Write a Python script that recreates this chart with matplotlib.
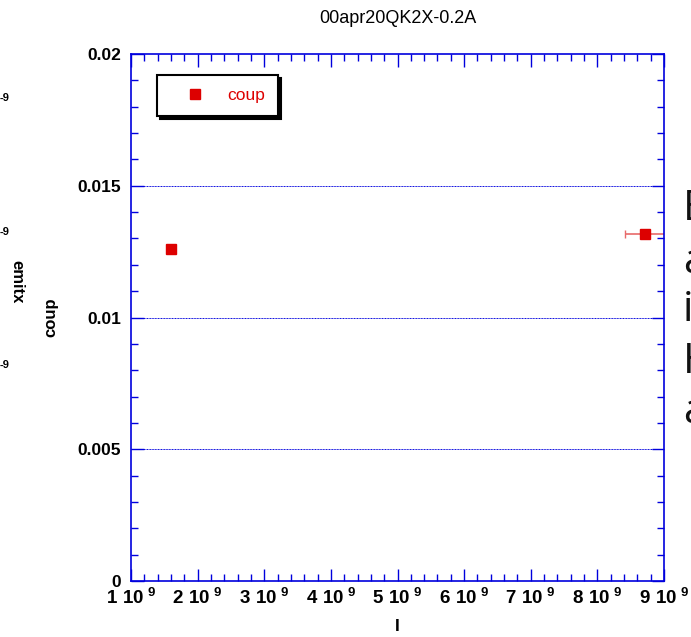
import numpy as np
import matplotlib
matplotlib.use("Agg")
import matplotlib.pyplot as plt
from matplotlib.ticker import MultipleLocator, FixedLocator, FuncFormatter

plt.rcParams['font.family'] = ['Liberation Sans', 'DejaVu Sans']
plt.rcParams['mathtext.fontset'] = 'custom'
plt.rcParams['mathtext.rm'] = 'Liberation Sans:bold'
plt.rcParams['mathtext.default'] = 'rm'

# data
current = [1.6e9, 8.72e9]
coup = [0.0126, 0.01317]
current_err = [0.0, 0.31e9]

x_ticks = [1e9, 2e9, 3e9, 4e9, 5e9, 6e9, 7e9, 8e9, 9e9]
y_ticks = [0, 0.005, 0.01, 0.015, 0.02]
y_tick_labels = ["0", "0.005", "0.01", "0.015", "0.02"]
grid_levels = [0.005, 0.01, 0.015]

blue = '#0000dd'
red = '#dd0000'

W, H = 691, 637
fig = plt.figure(figsize=(W / 100, H / 100), dpi=100)
ax = fig.add_axes([131 / W, 1 - 581 / H, 533 / W, 527 / H])

ax.errorbar(current, coup, xerr=current_err, fmt='none', ecolor='#e86a6a',
            elinewidth=1.2, capsize=3, zorder=2)
ax.plot(current, coup, 's', color=red, markersize=7.5, label='coup', zorder=3)

ax.set_xlim(1e9, 9e9)
ax.set_ylim(0, 0.02)

for g in grid_levels:
    ax.axhline(g, color=blue, lw=0.7, ls=(0, (1, 0.6)), zorder=1)

ax.xaxis.set_major_locator(FixedLocator(x_ticks))
ax.xaxis.set_minor_locator(MultipleLocator(0.2e9))
ax.yaxis.set_major_locator(FixedLocator(y_ticks))
ax.yaxis.set_minor_locator(MultipleLocator(0.001))
ax.xaxis.set_major_formatter(FuncFormatter(lambda v, p: r"$%d\ 10^{\ 9}$" % round(v / 1e9)))
ax.yaxis.set_major_formatter(FuncFormatter(lambda v, p: y_tick_labels[p] if p is not None and p < len(y_tick_labels) else ""))

ax.tick_params(which='both', direction='in', color=blue, top=True, right=True)
ax.tick_params(which='major', length=9, width=1)
ax.tick_params(which='minor', length=5, width=1)
ax.tick_params(axis='x', which='major', pad=5, labelsize=13.5)
ax.tick_params(axis='y', which='major', pad=7, labelsize=12.5)
for lbl in ax.get_yticklabels():
    lbl.set_fontweight('bold')
for s in ax.spines.values():
    s.set_color(blue)
    s.set_linewidth(1.2)

ax.set_title("00apr20QK2X-0.2A", fontsize=13, pad=22)
ax.set_xlabel("I", fontsize=12.5, fontweight='bold', labelpad=8)
ax.set_ylabel("coup", fontsize=12, fontweight='bold', labelpad=14)

leg = ax.legend(loc='upper left', bbox_to_anchor=(0.049, 0.96), borderaxespad=0,
                fancybox=False, edgecolor='black', fontsize=12.5, labelcolor=red,
                handlelength=2.9, handletextpad=0.4, borderpad=0.75,
                shadow={'facecolor': 'black', 'edgecolor': 'black', 'alpha': 1})
leg.get_frame().set_linewidth(1.5)

# stray labels from the neighbouring plots
def px(x, y):
    return x / W, 1 - y / H

for yy in [98, 232, 365]:
    fig.text(*px(0, yy), "-9", fontsize=8, fontweight='bold', va='center', ha='left')
fig.text(*px(17, 282), "emitx", fontsize=12, fontweight='bold', rotation=270,
         va='center', ha='center')

for letter, yy in zip(["E", "a", "i", "H", "a"], [209, 262, 310, 362, 412]):
    fig.text(*px(683, yy), letter, fontsize=30, family='Open Sans', color='#111111',
             va='center', ha='left')

fig.savefig("out.png", dpi=100)
